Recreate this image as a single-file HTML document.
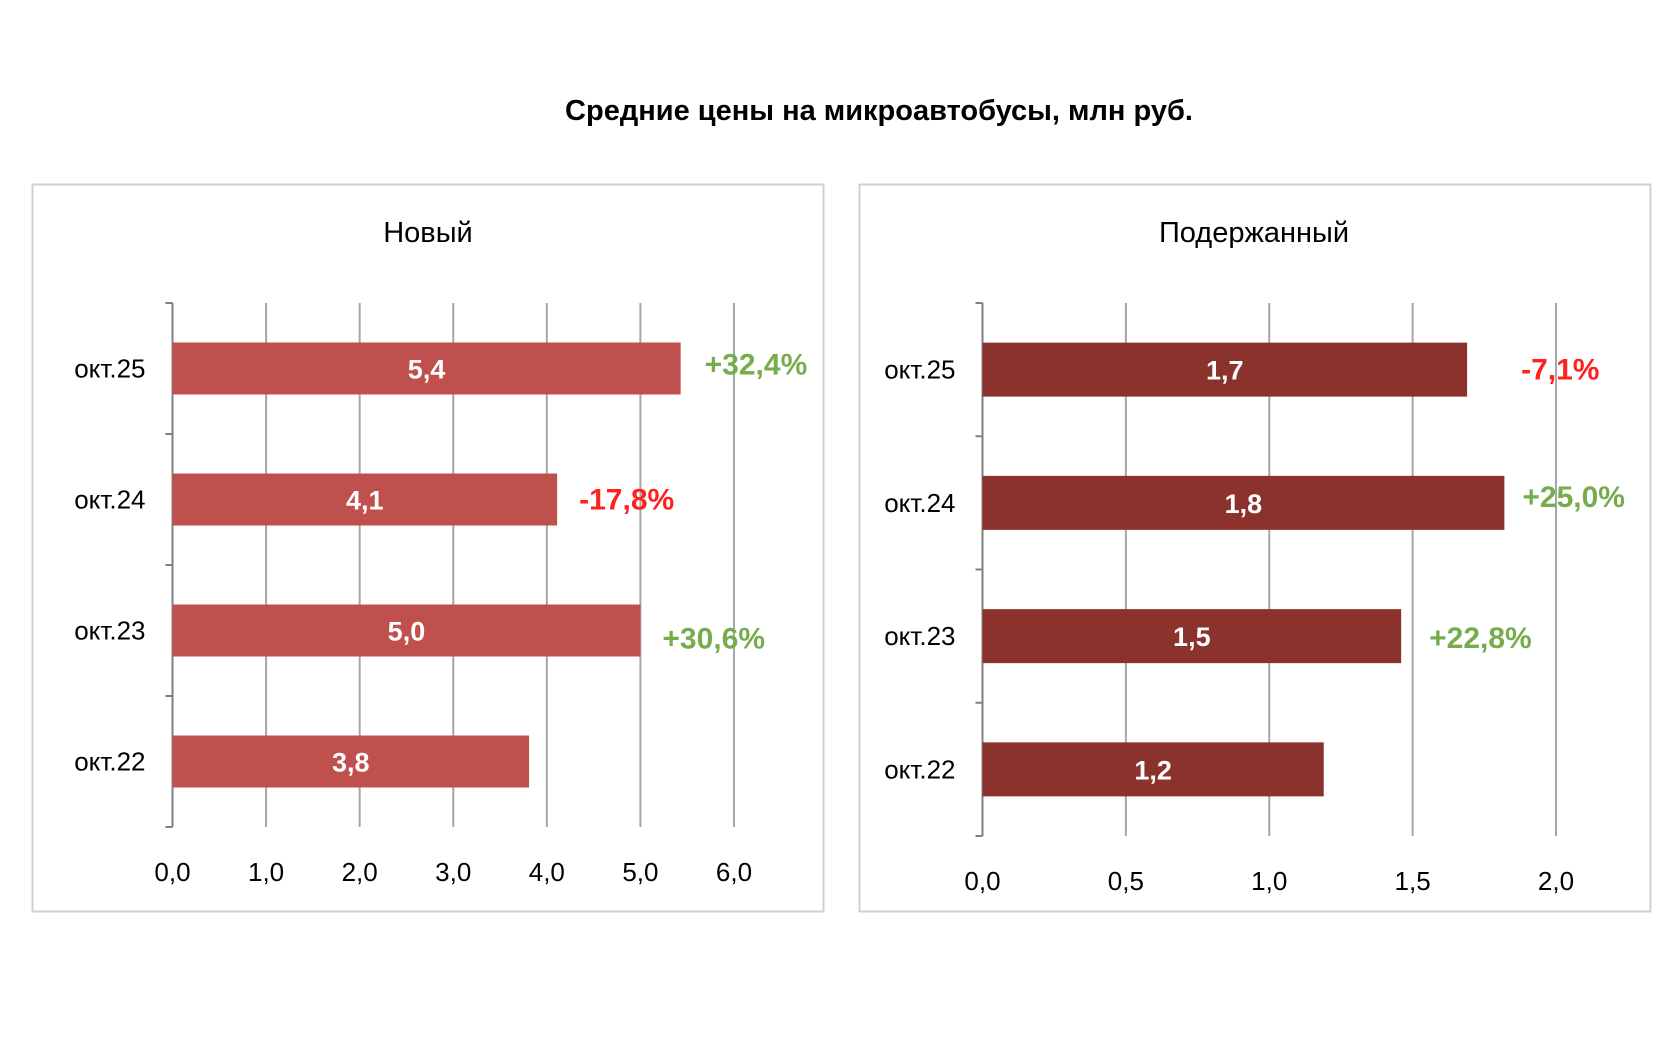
<!DOCTYPE html>
<html><head><meta charset="utf-8"><style>
body{margin:0;background:#fff;}
svg{display:block;font-family:"Liberation Sans Narrow","Liberation Sans",sans-serif;}
</style></head><body>
<svg id="c" width="1680" height="1050">
<text x="879" y="120" text-anchor="middle" font-size="29" font-weight="bold" fill="#000">Средние цены на микроавтобусы, млн руб.</text>
<rect x="32.5" y="184.5" width="791" height="727" fill="#fff" stroke="#d0d0d0" stroke-width="2"/>
<rect x="859.5" y="184.5" width="791" height="727" fill="#fff" stroke="#d0d0d0" stroke-width="2"/>
<text x="428" y="242" text-anchor="middle" font-size="29" fill="#000">Новый</text>
<text x="1254" y="242" text-anchor="middle" font-size="29" fill="#000">Подержанный</text>
<g id="g1"></g><g id="g2"></g>
</svg>
<script>
const categories = ["окт.25","окт.24","окт.23","окт.22"];
const newValues = [5.43, 4.11, 5.0, 3.81];
const newLabels = ["5,4","4,1","5,0","3,8"];
const newChanges = ["+32,4%","-17,8%","+30,6%",""];
const newTicks = [0,1,2,3,4,5,6];
const newTickLabels = ["0,0","1,0","2,0","3,0","4,0","5,0","6,0"];
const usedValues = [1.69, 1.82, 1.46, 1.19];
const usedLabels = ["1,7","1,8","1,5","1,2"];
const usedChanges = ["-7,1%","+25,0%","+22,8%",""];
const usedTicks = [0,0.5,1,1.5,2];
const usedTickLabels = ["0,0","0,5","1,0","1,5","2,0"];

const NS="http://www.w3.org/2000/svg";
function mk(p,tag,a,txt){const e=document.createElementNS(NS,tag);for(const k in a)e.setAttribute(k,a[k]);if(txt!==undefined)e.textContent=txt;p.appendChild(e);return e;}
function draw(g,o){
  const x=v=>o.x0+(v-o.min)/(o.max-o.min)*(o.x1-o.x0);
  const band=(o.y1-o.y0)/categories.length;
  const y=i=>o.y0+band*(i+0.5);
  o.ticks.forEach((t,i)=>{
    if(t>o.min){const l=mk(g,'line',{x1:x(t),x2:x(t),y1:o.y0,y2:o.y1,stroke:'#a6a6a6','stroke-width':2});
    
    }
    const tl=mk(g,'text',{x:x(t),y:o.y1+54,'text-anchor':'middle','font-size':26,fill:'#000'},o.tickLabels[i]);
    
    
  });
  const ax=mk(g,'line',{x1:o.x0,x2:o.x0,y1:o.y0,y2:o.y1,stroke:'#7f7f7f','stroke-width':2});
  
  
  for(let i=0;i<=categories.length;i++){const tk=mk(g,'line',{x1:o.x0-7,x2:o.x0,y1:o.y0+band*i,y2:o.y0+band*i,stroke:'#7f7f7f','stroke-width':2});
    
    }
  categories.forEach((c,i)=>{
    const cl=mk(g,'text',{x:o.x0-27,y:y(i)+9,'text-anchor':'end','font-size':26,fill:'#000'},c);
    
    
    const v=o.values[i];
    const b=mk(g,'rect',{x:o.x0,y:y(i)-o.bh/2,width:x(v)-o.x0,height:o.bh,fill:o.color});
    
    
    const vl=mk(g,'text',{x:(o.x0+x(v))/2,y:y(i)+10,'text-anchor':'middle','font-size':27,'font-weight':'bold',fill:'#fff'},o.labels[i]);
    
    
    const ch=o.changes[i];
    if(ch){const off=o.off[i];
      const cc=mk(g,'text',{x:x(v)+off[0],y:y(i)+off[1],'font-size':30,'font-weight':'bold',fill:ch[0]==='-'?'#ff2020':'#77ac4d'},ch);
      
      }
  });
}
draw(document.getElementById('g1'),{x0:172.5,x1:734,y0:303,y1:827,min:0,max:6,bh:52,color:'#c0504d',values:newValues,labels:newLabels,changes:newChanges,ticks:newTicks,tickLabels:newTickLabels,off:[[24,6],[22,10],[22,18]]});
draw(document.getElementById('g2'),{x0:982.5,x1:1556,y0:303,y1:836,min:0,max:2,bh:54,color:'#8b322c',values:usedValues,labels:usedLabels,changes:usedChanges,ticks:usedTicks,tickLabels:usedTickLabels,off:[[54,10],[18,4],[28,12]]});
</script>
</body></html>
